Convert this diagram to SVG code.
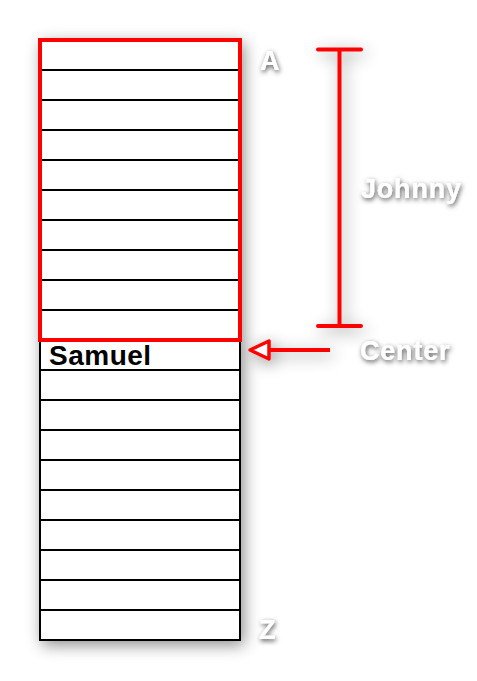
<svg xmlns="http://www.w3.org/2000/svg" width="477" height="681" viewBox="0 0 477 681">
<defs>
<filter id="sh" x="-40%" y="-30%" width="180%" height="160%">
<feDropShadow dx="3" dy="4" stdDeviation="8" flood-color="#000" flood-opacity="0.45"/>
</filter>
<filter id="tsh" x="-30%" y="-50%" width="160%" height="200%">
<feDropShadow dx="1" dy="2" stdDeviation="2.5" flood-color="#000" flood-opacity="0.7"/>
</filter>
</defs>
<style>
.row{fill:#fff;stroke:#000;stroke-width:2}
.red{fill:none;stroke:#f00;stroke-width:4}
.lbl{font-family:"Liberation Sans",Arial,sans-serif;font-weight:bold;font-size:27px;fill:#fff;letter-spacing:0.8px}
.name{font-family:"Liberation Sans",Arial,sans-serif;font-weight:bold;font-size:28px;fill:#000;letter-spacing:0.5px}
</style>
<rect width="477" height="681" fill="#fff"/>
<g id="column" filter="url(#sh)">
<rect x="40" y="40" width="200" height="600" class="row"/>
<path d="M40 70H240M40 100H240M40 130H240M40 160H240M40 190H240M40 220H240M40 250H240M40 280H240M40 310H240M40 340H240M40 370H240M40 400H240M40 430H240M40 460H240M40 490H240M40 520H240M40 550H240M40 580H240M40 610H240" stroke="#000" stroke-width="2" fill="none"/>
</g>
<g id="selection">
<rect x="40" y="40" width="200" height="300" class="red"/>
</g>
<g id="samuel">
<text x="49" y="364.5" class="name">Samuel</text>
</g>
<g id="connectors">
<g filter="url(#sh)">
<path d="M318 49.5H361M339.5 49.5V326M318 326H361" class="red" stroke-linecap="round"/>
<path d="M330 350H268" class="red"/>
<polygon points="250,350 269,341 269,359" fill="#fff" stroke="#f00" stroke-width="3.5" stroke-linejoin="round"/>
</g>
</g>
<g id="labels" filter="url(#tsh)">
<text x="260" y="70" class="lbl">A</text>
<text x="361" y="198" class="lbl">Johnny</text>
<text x="360" y="360" class="lbl">Center</text>
<text x="259" y="639" class="lbl">Z</text>
</g>
</svg>
